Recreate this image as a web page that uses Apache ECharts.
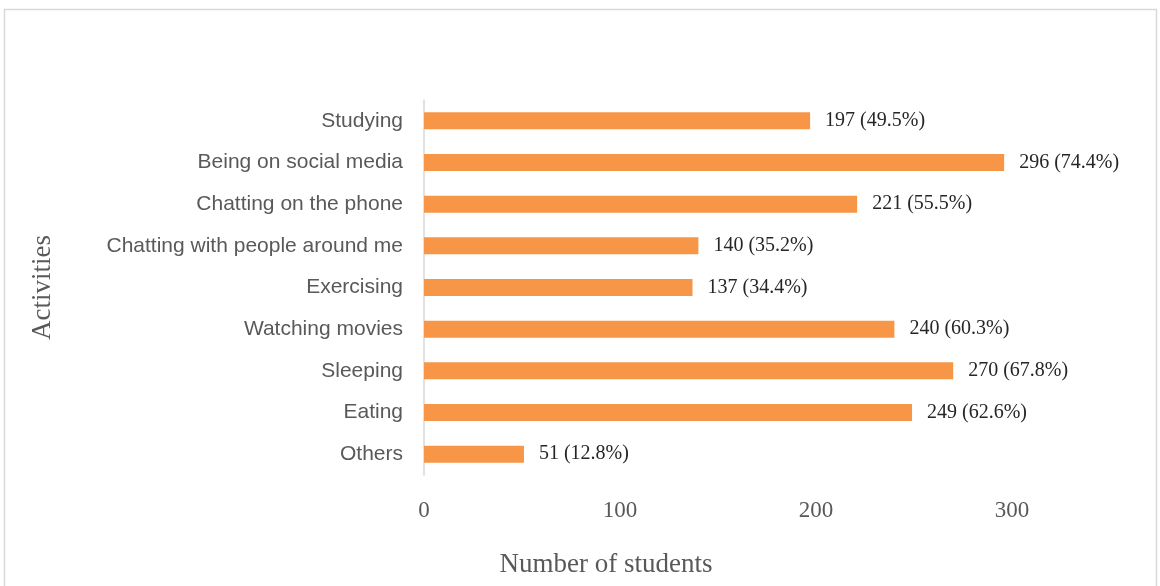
<!DOCTYPE html>
<html>
<head>
<meta charset="utf-8">
<script src="https://cdn.jsdelivr.net/npm/echarts@6/dist/echarts.min.js"></script>
<style>
  html, body { margin: 0; padding: 0; background: #fff; }
  #chart { width: 1160px; height: 586px; }
</style>
</head>
<body>
<div id="chart"></div>
<script>
// Activities, listed top to bottom
const categories = [
  'Studying',
  'Being on social media',
  'Chatting on the phone',
  'Chatting with people around me',
  'Exercising',
  'Watching movies',
  'Sleeping',
  'Eating',
  'Others'
];
const counts = [197, 296, 221, 140, 137, 240, 270, 249, 51];
const percents = ['49.5%', '74.4%', '55.5%', '35.2%', '34.4%', '60.3%', '67.8%', '62.6%', '12.8%'];
const xTicks = [0, 100, 200, 300];

const chart = echarts.init(document.getElementById('chart'), null, { renderer: 'canvas' });

const serif = 'Liberation Serif';

chart.setOption({
  backgroundColor: '#ffffff',
  animation: false,
  graphic: [{
    type: 'rect',
    shape: { x: 4.5, y: 9.5, width: 1152, height: 600 },
    style: { fill: 'none', stroke: '#d9d9d9', lineWidth: 1.5 },
    silent: true
  }],
  title: [{
    text: 'Number of students',
    left: 601, top: 546,
    textAlign: 'center',
    textStyle: { fontFamily: serif, fontSize: 27, fontWeight: 'normal', color: '#595959' }
  }],
  grid: { left: 424, top: 100, width: 588, height: 375, containLabel: false },
  xAxis: {
    type: 'value',
    min: xTicks[0],
    max: xTicks[xTicks.length - 1],
    interval: 100,
    splitLine: { show: false },
    axisLine: { show: false },
    axisTick: { show: false },
    axisLabel: {
      margin: 24,
      fontFamily: serif,
      fontSize: 23,
      color: '#595959'
    }
  },
  yAxis: {
    type: 'category',
    inverse: true,
    data: categories,
    name: 'Activities',
    nameLocation: 'middle',
    nameGap: 368,
    nameRotate: 90,
    nameTextStyle: { fontFamily: serif, fontSize: 27, color: '#595959' },
    axisLine: { show: true, lineStyle: { color: '#d9d9d9', width: 1.5 } },
    axisTick: { show: false },
    axisLabel: {
      margin: 21,
      fontFamily: 'Liberation Sans',
      fontSize: 21,
      color: '#595959'
    }
  },
  series: [{
    type: 'bar',
    data: counts,
    barWidth: 17,
    itemStyle: { color: '#F79646' },
    label: {
      show: true,
      position: 'right',
      distance: 15,
      fontFamily: serif,
      fontSize: 20,
      color: '#262626',
      formatter: p => p.value + ' (' + percents[p.dataIndex] + ')'
    }
  }]
});
</script>
</body>
</html>
